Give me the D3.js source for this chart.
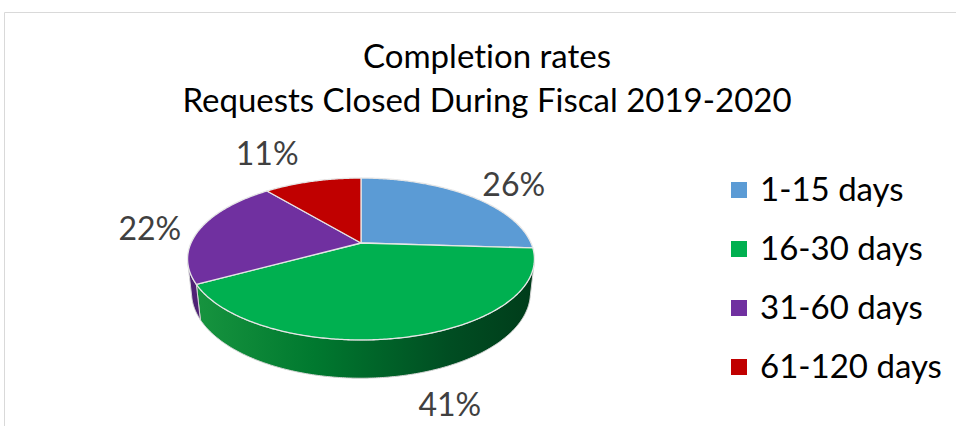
<!DOCTYPE html>
<html>
<head>
<meta charset="utf-8">
<script src="https://cdn.jsdelivr.net/npm/d3@7"></script>
<style>
  body { margin: 0; background: #fff; }
  svg { display: block; }
  text { font-family: Lato, "Open Sans", sans-serif; font-variant-ligatures: none; font-feature-settings: "liga" 0, "clig" 0; }
</style>
</head>
<body>
<svg id="chart" width="956" height="426"></svg>
<script>
// chart data
const titleLines = ["Completion rates", "Requests Closed During Fiscal 2019-2020"];
const categories = ["1-15 days", "16-30 days", "31-60 days", "61-120 days"];
const values = [26, 41, 22, 11];
const pctLabels = ["26%", "41%", "22%", "11%"];
const sliceColors = ["#5B9BD5", "#00B050", "#7030A0", "#C00000"];
const wallColors = ["#3d6f9c", "url(#greenWall)", "#4f2275", "#8a0000"];

const svg = d3.select('#chart');

// outer chart border (only top + left show in the frame)
svg.append('path')
  .attr('d', 'M4.5,426 V12.5 H956')
  .attr('fill', 'none')
  .attr('stroke', '#d9d9d9')
  .attr('stroke-width', 1);

// gradient for the front wall
const defs = svg.append('defs');
const grad = defs.append('linearGradient')
  .attr('id', 'greenWall')
  .attr('gradientUnits', 'userSpaceOnUse')
  .attr('x1', 195).attr('x2', 535).attr('y1', 0).attr('y2', 0);
[[0, '#17943f'], [0.35, '#00792f'], [0.75, '#004d22'], [1, '#003c1a']].forEach(s => {
  grad.append('stop').attr('offset', s[0]).attr('stop-color', s[1]);
});

// title
svg.append('g').selectAll('text')
  .data(titleLines)
  .enter().append('text')
  .attr('x', 487)
  .attr('y', (d, i) => 68 + i * 44)
  .attr('text-anchor', 'middle')
  .attr('font-size', 33)
  .attr('fill', '#000')
  .text(d => d);

// simple perspective projection of a flat cylinder
const R = 170, depth = 38, focal = 765;
const sinT = 0.4576, cosT = Math.sqrt(1 - sinT * sinT);
const cx = 361, cy = 243;

function proj(x, y, z) {
  const v = y * cosT - z * sinT;
  const d = y * sinT + z * cosT;
  const k = focal / (focal - d);
  return [cx + x * k, cy - v * k];
}
function rim(a, y, r) {
  r = r || R;
  return proj(r * Math.sin(a), y, -r * Math.cos(a));
}
function arcPts(a0, a1, y) {
  const n = Math.max(2, Math.ceil((a1 - a0) / 0.01));
  return d3.range(n + 1).map(i => rim(a0 + (a1 - a0) * i / n, y));
}

const pie = d3.pie().sort(null).value(d => d);
const arcs = pie(values);
const line = d3.line();

// visible part of the side wall
const visA = Math.acos(-R / (focal * cosT));
const visB = 2 * Math.PI - visA;

const pieG = svg.append('g');

arcs.forEach((a, i) => {
  const t0 = Math.max(a.startAngle, visA);
  const t1 = Math.min(a.endAngle, visB);
  if (t1 <= t0) return;
  const pts = arcPts(t0, t1, 0).concat(arcPts(t0, t1, -depth).reverse());
  pieG.append('path')
    .attr('d', line(pts) + 'Z')
    .attr('fill', wallColors[i])
    .attr('stroke', '#d6d6d6')
    .attr('stroke-width', 1)
    .attr('stroke-linejoin', 'round');
});

arcs.forEach((a, i) => {
  const pts = [proj(0, 0, 0)].concat(arcPts(a.startAngle, a.endAngle, 0));
  pieG.append('path')
    .attr('d', line(pts) + 'Z')
    .attr('fill', sliceColors[i])
    .attr('stroke', '#e6e6e6')
    .attr('stroke-width', 1.3)
    .attr('stroke-linejoin', 'round');
});

// data labels: placed round an ellipse by mid angle, then nudged like Excel's best fit
const labelNudge = [[-4, 8], [42, 20], [0, -10], [-21, 9]];
const labFs = 32;
svg.append('g').selectAll('text')
  .data(arcs)
  .enter().append('text')
  .attr('x', (d, i) => cx + 215 * Math.sin((d.startAngle + d.endAngle) / 2) + labelNudge[i][0])
  .attr('y', (d, i) => 262 - 125 * Math.cos((d.startAngle + d.endAngle) / 2) + labelNudge[i][1] + labFs * 0.36)
  .attr('text-anchor', 'middle')
  .attr('font-size', labFs)
  .attr('fill', '#404040')
  .text((d, i) => pctLabels[i]);

// legend
const legend = svg.append('g')
  .attr('transform', 'translate(731, 190)');
const items = legend.selectAll('.legend-entry')
  .data(categories)
  .enter().append('g')
  .attr('class', 'legend-entry')
  .attr('transform', (d, i) => `translate(0, ${i * 59})`);
items.append('rect')
  .attr('x', 0).attr('y', -8)
  .attr('width', 16).attr('height', 16)
  .attr('fill', (d, i) => sliceColors[i]);
items.append('text')
  .attr('x', 29)
  .attr('y', 11)
  .attr('font-size', 33)
  .attr('fill', '#000')
  .text(d => d);
</script>
</body>
</html>
